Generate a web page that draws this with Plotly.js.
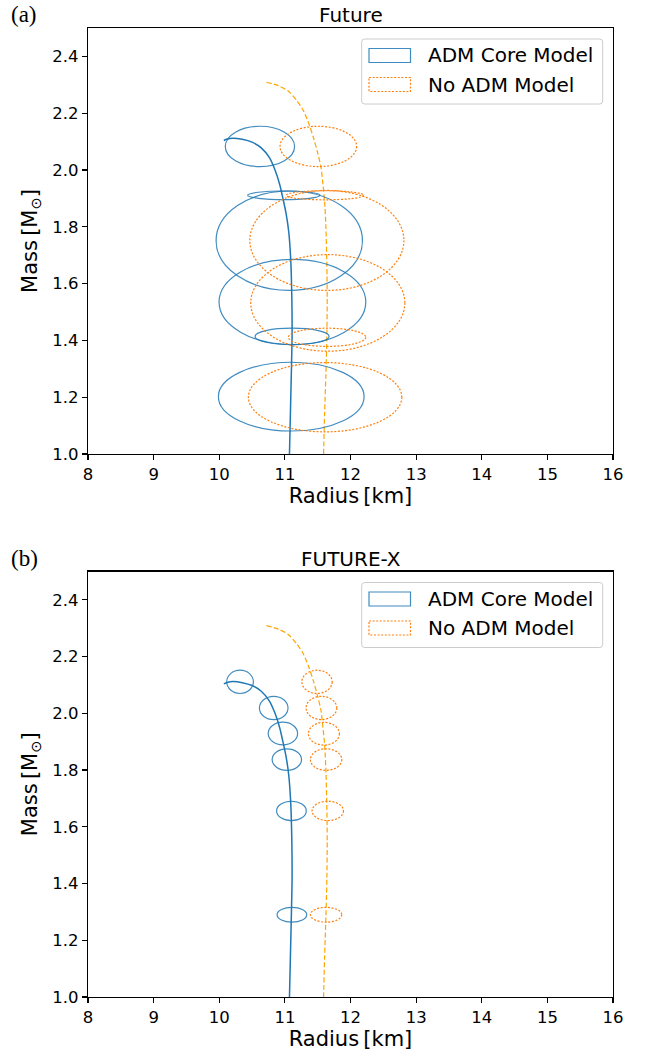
<!DOCTYPE html>
<html>
<head>
<meta charset="utf-8">
<script src="https://cdn.plot.ly/plotly-3.0.1.min.js"></script>
<style>html,body{margin:0;padding:0;background:#fff;}#chart{width:647px;height:1057px;}</style>
</head>
<body>
<div id="chart"></div>
<script>
// ---------- data ----------
// Mass-radius curves (same in both panels)
const admCurveR = [10.07, 10.12, 10.21, 10.35, 10.50, 10.64, 10.76, 10.85, 10.92, 10.97, 11.02, 11.06, 11.09, 11.105, 11.11, 11.10, 11.09, 11.08, 11.07];
const admCurveM = [2.104, 2.109, 2.112, 2.108, 2.098, 2.078, 2.045, 2.000, 1.950, 1.900, 1.845, 1.780, 1.680, 1.560, 1.420, 1.300, 1.200, 1.100, 1.000];
const noAdmCurveR = [10.72, 10.90, 11.05, 11.18, 11.28, 11.37, 11.44, 11.50, 11.55, 11.58, 11.605, 11.625, 11.64, 11.645, 11.64, 11.625, 11.605, 11.59];
const noAdmCurveM = [2.309, 2.297, 2.278, 2.245, 2.210, 2.160, 2.110, 2.060, 2.010, 1.950, 1.890, 1.800, 1.660, 1.550, 1.420, 1.280, 1.140, 1.000];

// Panel (a) Future: error ellipses (centre R, centre M, semi-axis R, semi-axis M)
const futAdmR  = [10.62, 10.985, 11.067, 11.115, 11.11, 11.097];
const futAdmM  = [2.083, 1.911, 1.751, 1.535, 1.414, 1.202];
const futAdmDR = [0.528, 0.552, 1.115, 1.118, 0.564, 1.110];
const futAdmDM = [0.071, 0.015, 0.175, 0.150, 0.029, 0.121];
const futNoR  = [11.51, 11.61, 11.64, 11.654, 11.643, 11.613];
const futNoM  = [2.083, 1.911, 1.752, 1.532, 1.411, 1.200];
const futNoDR = [0.584, 0.590, 1.174, 1.174, 0.590, 1.169];
const futNoDM = [0.071, 0.016, 0.176, 0.170, 0.032, 0.122];

// Panel (b) FUTURE-X
const fxAdmR  = [10.317, 10.83, 10.97, 11.03, 11.10, 11.107];
const fxAdmM  = [2.111, 2.019, 1.929, 1.837, 1.656, 1.290];
const fxAdmDR = [0.203, 0.218, 0.224, 0.224, 0.226, 0.226];
const fxAdmDM = [0.041, 0.041, 0.040, 0.038, 0.034, 0.026];
const fxNoR  = [11.49, 11.557, 11.595, 11.628, 11.654, 11.628];
const fxNoM  = [2.111, 2.019, 1.928, 1.837, 1.656, 1.290];
const fxNoDR = [0.231, 0.234, 0.236, 0.239, 0.239, 0.239];
const fxNoDM = [0.041, 0.041, 0.040, 0.038, 0.034, 0.026];

const panelTitles = ['Future', 'FUTURE-X'];
const panelLabels = ['(a)', '(b)'];
const legendNames = ['ADM Core Model', 'No ADM Model'];
const xTicks = [8, 9, 10, 11, 12, 13, 14, 15, 16];
const yTicks = [1.0, 1.2, 1.4, 1.6, 1.8, 2.0, 2.2, 2.4];

// ---------- styling / layout ----------
const BLUE = '#1f77b4', BLUE_E = 'rgba(31,119,180,0.85)', ORANGE = '#ffa500', ORANGE_E = '#ff7f0e';
const FONT = 'DejaVu Sans';
const ML = 88, MR = 34, MT = 28, MB = 60, FW = 647, FH = 1057;
const PW = FW - ML - MR, PH = FH - MT - MB;
const px = x => (x - ML) / PW;
const py = y => 1 - (y - MT) / PH;
const topDomain = [py(454), 1];
const botDomain = [0, py(571.5)];

const traces = [];
['', '2'].forEach(s => {
  traces.push({x: admCurveR, y: admCurveM, xaxis: 'x' + s, yaxis: 'y' + s, mode: 'lines',
    line: {color: BLUE, width: 1.5, shape: 'spline', smoothing: 0.8}, showlegend: false, hoverinfo: 'x+y'});
  traces.push({x: noAdmCurveR, y: noAdmCurveM, xaxis: 'x' + s, yaxis: 'y' + s, mode: 'lines',
    line: {color: ORANGE, width: 1.2, dash: '5px,2.5px', shape: 'spline', smoothing: 0.8}, showlegend: false, hoverinfo: 'x+y'});
});

const shapes = [];
function addEllipses(R, M, DR, DM, s, color, dash) {
  R.forEach((r, i) => {
    shapes.push({type: 'circle', xref: 'x' + s, yref: 'y' + s,
      x0: r - DR[i], x1: r + DR[i], y0: M[i] - DM[i], y1: M[i] + DM[i],
      line: {color: color, width: 1.2, dash: dash}, fillcolor: 'rgba(0,0,0,0)'});
  });
}
addEllipses(futAdmR, futAdmM, futAdmDR, futAdmDM, '', BLUE_E, 'solid');
addEllipses(futNoR, futNoM, futNoDR, futNoDM, '', ORANGE_E, '2px,1.6px');
addEllipses(fxAdmR, fxAdmM, fxAdmDR, fxAdmDM, '2', BLUE_E, 'solid');
addEllipses(fxNoR, fxNoM, fxNoDR, fxNoDM, '2', ORANGE_E, '2px,1.6px');

const annotations = [];
function roundRect(x0, y0, x1, y1, r) {
  const X = v => px(v), Y = v => py(v);
  return `M${X(x0 + r)},${Y(y0)} L${X(x1 - r)},${Y(y0)} Q${X(x1)},${Y(y0)} ${X(x1)},${Y(y0 + r)} ` +
    `L${X(x1)},${Y(y1 - r)} Q${X(x1)},${Y(y1)} ${X(x1 - r)},${Y(y1)} L${X(x0 + r)},${Y(y1)} ` +
    `Q${X(x0)},${Y(y1)} ${X(x0)},${Y(y1 - r)} L${X(x0)},${Y(y0 + r)} Q${X(x0)},${Y(y0)} ${X(x0 + r)},${Y(y0)} Z`;
}
[0, 543.5].forEach((off, k) => {
  shapes.push({type: 'path', xref: 'paper', yref: 'paper', path: roundRect(361.7, 39 + off, 602.7, 104 + off, 3),
    line: {color: '#cccccc', width: 1}, fillcolor: 'rgba(255,255,255,0.8)'});
  shapes.push({type: 'rect', xref: 'paper', yref: 'paper', x0: px(369), x1: px(410.5), y0: py(48.5 + off), y1: py(62.5 + off),
    line: {color: BLUE_E, width: 1.2}, fillcolor: 'rgba(0,0,0,0)'});
  shapes.push({type: 'rect', xref: 'paper', yref: 'paper', x0: px(369), x1: px(410.5), y0: py(77.5 + off), y1: py(91.5 + off),
    line: {color: ORANGE_E, width: 1.2, dash: '2px,1.6px'}, fillcolor: 'rgba(0,0,0,0)'});
  annotations.push({xref: 'paper', yref: 'paper', x: px(426), y: py(55.5 + off), xanchor: 'left', yanchor: 'middle',
    text: legendNames[0], showarrow: false, font: {family: FONT, size: 20, color: '#000'}});
  annotations.push({xref: 'paper', yref: 'paper', x: px(426), y: py(84.5 + off), xanchor: 'left', yanchor: 'middle',
    text: legendNames[1], showarrow: false, font: {family: FONT, size: 20, color: '#000'}});
  annotations.push({xref: 'paper', yref: 'paper', x: 0.5, y: py(15 + off), xanchor: 'center', yanchor: 'middle',
    text: panelTitles[k], showarrow: false, font: {family: FONT, size: 20, color: '#000'}});
  annotations.push({xref: 'paper', yref: 'paper', x: px(9), y: py(15 + off), xanchor: 'left', yanchor: 'middle',
    text: panelLabels[k], showarrow: false, font: {family: 'Liberation Serif', size: 23, color: '#000'}});
});

function xAxis(anchor) {
  return {anchor: anchor, range: [8, 16], tickvals: xTicks, ticktext: xTicks.map(String),
    showline: true, linecolor: '#000', linewidth: 1.2, mirror: true, ticks: 'outside', ticklen: 5, tickwidth: 1.2,
    tickcolor: '#000', showgrid: false, zeroline: false, tickfont: {family: FONT, size: 16.5, color: '#000'},
    title: {text: 'Radius\u2009[km]', font: {family: FONT, size: 21, color: '#000'}, standoff: 5}};
}
function yAxis(anchor, domain) {
  return {anchor: anchor, domain: domain, range: [1.0, 2.5], tickvals: yTicks, ticktext: yTicks.map(v => v.toFixed(1)),
    showline: true, linecolor: '#000', linewidth: 1.2, mirror: true, ticks: 'outside', ticklen: 5, tickwidth: 1.2,
    tickcolor: '#000', showgrid: false, zeroline: false, tickfont: {family: FONT, size: 16.5, color: '#000'},
    title: {text: 'Mass\u2009[M<sub>⊙</sub>]', font: {family: FONT, size: 21, color: '#000'}, standoff: 9}};
}

const layout = {
  width: FW, height: FH, margin: {l: ML, r: MR, t: MT, b: MB, pad: 0},
  paper_bgcolor: '#fff', plot_bgcolor: '#fff', showlegend: false,
  font: {family: FONT, color: '#000'},
  xaxis: xAxis('y'), yaxis: yAxis('x', topDomain),
  xaxis2: xAxis('y2'), yaxis2: yAxis('x2', botDomain),
  shapes: shapes, annotations: annotations
};

Plotly.newPlot('chart', traces, layout, {displayModeBar: false, staticPlot: true});
</script>
</body>
</html>
